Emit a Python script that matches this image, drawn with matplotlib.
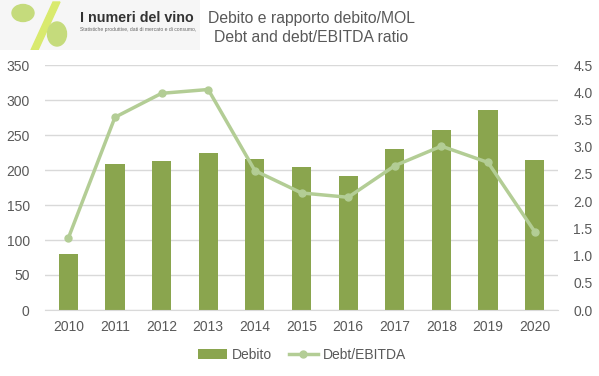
import matplotlib
matplotlib.use("Agg")
import matplotlib.pyplot as plt
from matplotlib.patches import Ellipse, Polygon, Rectangle
import numpy as np

years = ["2010", "2011", "2012", "2013", "2014", "2015", "2016", "2017", "2018", "2019", "2020"]
debito = [80, 209, 213, 224, 216, 204, 191, 230, 257, 286, 214]
ratio = [1.32, 3.54, 3.98, 4.05, 2.56, 2.15, 2.07, 2.65, 3.01, 2.71, 1.44]
left_ticks = [0, 50, 100, 150, 200, 250, 300, 350]
right_ticks = [0.0, 0.5, 1.0, 1.5, 2.0, 2.5, 3.0, 3.5, 4.0, 4.5]

FONT = ["Liberation Sans", "DejaVu Sans"]
plt.rcParams['font.family'] = FONT
TXT = "#595959"
BAR = "#8AA54E"
LINE = "#B3CD95"
GRID = "#D9D9D9"

W, H = 599, 376
fig = plt.figure(figsize=(W / 100, H / 100), dpi=100)
ax = fig.add_axes([45 / W, 1 - 310 / H, (558 - 45) / W, (310 - 65) / H])
x = np.arange(len(years))
bars = ax.bar(x, debito, width=0.41, color=BAR, label="Debito", zorder=2)
ax.set_ylim(0, 350)
ax.set_xlim(-0.5, len(years) - 0.5)
ax.set_yticks(left_ticks)
ax.set_xticks(x)
ax.set_xticklabels(years)
ax.grid(axis='y', color=GRID, linewidth=1, zorder=0)
ax.set_axisbelow(True)
for s in ["top", "right", "left"]:
    ax.spines[s].set_visible(False)
ax.spines["bottom"].set_color(GRID)
ax.tick_params(axis='both', length=0, colors=TXT, labelsize=10)
ax.tick_params(axis='y', pad=11)
ax.tick_params(axis='x', pad=7)

ax2 = ax.twinx()
ln, = ax2.plot(x, ratio, color=LINE, linewidth=2.5, marker='o', markersize=5,
               label="Debt/EBITDA", zorder=3)
ax2.set_ylim(0, 4.5)
ax2.set_yticks(right_ticks)
ax2.set_yticklabels([f"{v:.1f}" for v in right_ticks])
for s in ["top", "right", "left", "bottom"]:
    ax2.spines[s].set_visible(False)
ax2.tick_params(axis='y', length=0, colors=TXT, labelsize=10, pad=11)

fig.legend([bars, ln], ["Debito", "Debt/EBITDA"], loc="center",
           bbox_to_anchor=(302 / W, 1 - 355 / H), ncol=2, frameon=False,
           fontsize=10, labelcolor=TXT, handlelength=2.1, columnspacing=1.2,
           handletextpad=0.35)

# Title
fig.text(311 / W, 1 - 19 / H, "Debito e rapporto debito/MOL", ha="center", va="center",
         fontsize=11.3, color=TXT)
fig.text(311 / W, 1 - 38 / H, "Debt and debt/EBITDA ratio", ha="center", va="center",
         fontsize=11.3, color=TXT)

# Logo approximation
lax = fig.add_axes([0, 1 - 50 / H, 200 / W, 50 / H])
lax.set_xlim(0, 200)
lax.set_ylim(50, 0)
lax.axis("off")
lax.add_patch(Rectangle((0, 0), 200, 50, color="#F6F6F6", zorder=0))
lax.add_patch(Polygon([[31, 50], [38, 50], [60, 2], [53, 2]], closed=True,
                      color="#D9EA6E", zorder=1))
lax.add_patch(Ellipse((23, 13), 22, 17, color="#C5DB7C", zorder=2))
lax.add_patch(Ellipse((57, 34), 19, 24, color="#C5DB7C", zorder=2))
lax.text(80, 18, "I numeri del vino", fontsize=10.3, fontweight="bold",
         color="#333333", va="center", ha="left")
lax.text(80, 30, "Statistiche produttive, dati di mercato e di consumo,", fontsize=3.6,
         color="#666666", va="center", ha="left")

fig.savefig("out.png", dpi=100)
